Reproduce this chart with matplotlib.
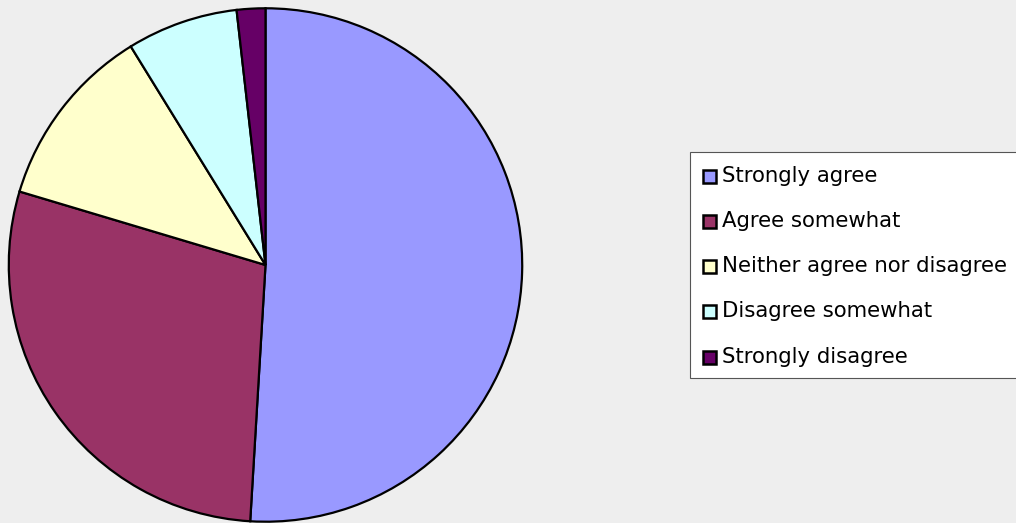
import matplotlib.pyplot as plt
from matplotlib.patches import Rectangle

# --- DATA ---
labels = ["Strongly agree", "Agree somewhat", "Neither agree nor disagree",
          "Disagree somewhat", "Strongly disagree"]
values = [51.0, 28.7, 11.6, 7.0, 1.8]
colors = ["#9999FF", "#993366", "#FFFFCC", "#CCFFFF", "#660066"]

W, H = 1016, 523
fig = plt.figure(figsize=(W / 100, H / 100), dpi=100, facecolor="#EEEEEE")

# pie area: centre ~(265.5, 265) px, radius ~258 px
cx, cy, r = 265.5, 265, 258
ax = fig.add_axes([(cx - r) / W, (H - cy - r) / H, 2 * r / W, 2 * r / H])
ax.pie(values, colors=colors, startangle=90, counterclock=False, radius=1,
       wedgeprops=dict(edgecolor="black", linewidth=1.6))
ax.set_xlim(-1.005, 1.005)
ax.set_ylim(-1.005, 1.005)
ax.set_aspect("equal")
ax.axis("off")

# legend box, drawn by hand so it can run off the right edge like the original
lx0, ly0, lx1, ly1 = 690, 152, 1030, 378
fig.patches.append(Rectangle((lx0 / W, 1 - ly1 / H), (lx1 - lx0) / W, (ly1 - ly0) / H,
                             transform=fig.transFigure, facecolor="white",
                             edgecolor="#555555", linewidth=0.8))
row_y = [176, 221, 266, 311, 357]
for lab, col, y in zip(labels, colors, row_y):
    fig.patches.append(Rectangle((703 / W, 1 - (y + 7) / H), 13 / W, 13 / H,
                                 transform=fig.transFigure, facecolor=col,
                                 edgecolor="black", linewidth=1.8))
    fig.text(722 / W, 1 - y / H, lab, fontsize=15.3, va="center", ha="left",
             family="DejaVu Sans", color="black")

fig.savefig("out.png", dpi=100, facecolor=fig.get_facecolor())
